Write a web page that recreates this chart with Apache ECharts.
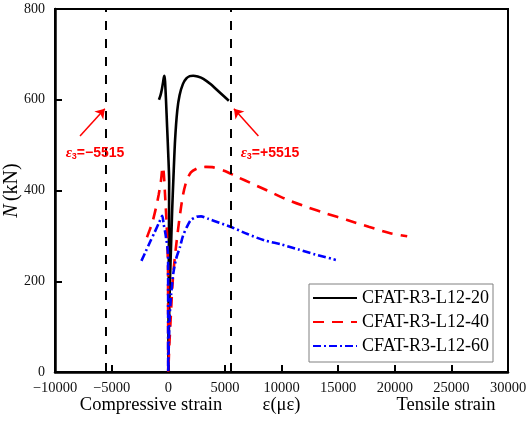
<!DOCTYPE html>
<html><head><meta charset="utf-8">
<script src="https://cdn.jsdelivr.net/npm/echarts@6/dist/echarts.min.js"></script>
<style>html,body{margin:0;padding:0;background:#fff}#c{width:529px;height:425px}</style>
</head><body><div id="c"></div>
<script>
const seriesNames = ['CFAT-R3-L12-20', 'CFAT-R3-L12-40', 'CFAT-R3-L12-60'];
const strain20 = [-820,-680,-550,-450,-380,-330,-280,-200,-100,0,80,60,40,20,0,60,150,250,350,450,600,800,1000,1300,1600,1900,2200,2600,3100,3700,4500,5350];
const load20   = [600,610,625,640,650,653,640,600,540,480,420,300,200,100,0,100,200,280,360,423,510,577,610,635,647,652,653,651,646,635,617,598];
const strain40 = [-1880,-1650,-1400,-1100,-850,-650,-490,-400,-290,-150,-30,-20,-10,0,100,200,300,420,550,750,1000,1300,1600,2000,2600,3300,4000,5000,6000,7500,9000,10500,12200,14000,15800,17700,19600,21100];
const load40   = [297,312,330,360,390,420,452,440,394,330,240,200,100,0,60,110,160,210,245,290,340,390,420,440,449,452,451,443,431,414,397,380,364,349,335,320,306,299];
const strain60 = [-2370,-2000,-1600,-1200,-800,-530,-400,-250,-20,-10,-10,0,50,120,250,450,700,1040,1300,1650,2000,2500,2900,3500,4500,5600,7000,8500,10000,11500,13000,14800];
const load60   = [245,265,287,308,330,344,325,305,260,200,100,0,60,120,170,218,250,276,300,320,335,342,343,338,329,319,304,290,281,270,259,247];
const yieldStrain = [-5515, 5515];
const yieldLabels = ['=\u22125515', '=+5515'];
const xTicks = {min: -10000, max: 30000, interval: 5000};
const yTicks = {min: 0, max: 800, interval: 200};

const pairs = (xs, ys) => xs.map((x, i) => [x, ys[i]]);
const SERIF = "'Liberation Serif','Times New Roman',serif";
const fmtNum = v => v < 0 ? '\u2212' + Math.abs(v) : String(v);

const chart = echarts.init(document.getElementById('c'), null, {renderer: 'canvas'});
const labelRich = {
  e: {fontFamily: "'Liberation Serif',serif", fontStyle: 'italic', fontWeight: 'bold', fontSize: 15, color: '#ff0000'},
  s: {fontFamily: "'Liberation Sans',sans-serif", fontWeight: 'bold', fontSize: 9, color: '#ff0000', padding: [7, 0, 0, 0]},
  t: {fontFamily: "'Liberation Sans',sans-serif", fontWeight: 'bold', fontSize: 14, color: '#ff0000'}
};
chart.setOption({
  animation: false,
  backgroundColor: '#fff',
  grid: {left: 55, right: 21, top: 9, bottom: 53, containLabel: false, outerBoundsMode: 'none', show: true, borderColor: '#000', borderWidth: 2, backgroundColor: 'transparent'},
  xAxis: {
    type: 'value', min: xTicks.min, max: xTicks.max, interval: xTicks.interval,
    name: '\u03b5(\u03bc\u03b5)', nameLocation: 'middle', nameGap: 24, nameMoveOverlap: false,
    nameTextStyle: {fontFamily: SERIF, fontSize: 18.5, color: '#000'},
    axisLine: {onZero: false, lineStyle: {color: '#000', width: 2.5}},
    axisTick: {inside: true, length: 7, lineStyle: {color: '#000', width: 2}},
    axisLabel: {margin: 9, fontFamily: SERIF, fontSize: 14.5, color: '#111', formatter: fmtNum},
    splitLine: {show: false}
  },
  yAxis: {
    type: 'value', min: yTicks.min, max: yTicks.max, interval: yTicks.interval,
    name: '{i|N} {n|(kN)}', nameLocation: 'middle', nameGap: 33, nameRotate: 90, nameMoveOverlap: false,
    nameTextStyle: {rich: {i: {fontFamily: SERIF, fontStyle: 'italic', fontSize: 20, color: '#000'}, n: {fontFamily: SERIF, fontSize: 20, color: '#000'}}},
    axisLine: {onZero: false, lineStyle: {color: '#000', width: 2.5}},
    axisTick: {inside: true, length: 7, lineStyle: {color: '#000', width: 2}},
    axisLabel: {margin: 10, fontFamily: SERIF, fontSize: 14, color: '#111', formatter: fmtNum},
    splitLine: {show: false}
  },
  legend: {
    orient: 'vertical', left: 309, top: 284, padding: [4, 4, 6, 3],
    itemWidth: 44, itemHeight: 14, itemGap: 4,
    borderColor: '#808080', borderWidth: 1, backgroundColor: '#fff',
    itemStyle: {opacity: 0},
    textStyle: {fontFamily: SERIF, fontSize: 18, color: '#000', lineHeight: 20},
    data: seriesNames
  },
  graphic: [
    {type: 'text', x: 151, y: 405, style: {text: 'Compressive strain', font: "18.5px 'Liberation Serif', serif", fill: '#000', align: 'center', verticalAlign: 'middle'}},
    {type: 'text', x: 446, y: 405, style: {text: 'Tensile strain', font: "18.5px 'Liberation Serif', serif", fill: '#000', align: 'center', verticalAlign: 'middle'}}
  ],
  series: [
    {
      name: seriesNames[0], type: 'line', symbol: 'none', smooth: 0.25, data: pairs(strain20, load20),
      lineStyle: {color: '#000', width: 2.6}, itemStyle: {color: '#000'},
      markLine: {
        silent: true, symbol: 'none', label: {show: false},
        lineStyle: {color: '#000', width: 2, type: [9, 9]},
        data: yieldStrain.map(v => ({xAxis: v}))
      }
    },
    {
      name: seriesNames[1], type: 'line', symbol: 'none', smooth: 0.25, data: pairs(strain40, load40),
      lineStyle: {color: '#ff0000', width: 2.6, type: [11, 8]}, itemStyle: {color: '#ff0000'},
      markLine: {
        silent: true, symbol: ['none', 'arrow'], symbolSize: 9, label: {show: false},
        lineStyle: {color: '#ff0000', width: 1.5, type: 'solid'},
        data: [
          [{coord: [-7790, 520]}, {coord: [-5600, 580]}],
          [{coord: [7960, 520]}, {coord: [5800, 580]}]
        ]
      }
    },
    {
      name: seriesNames[2], type: 'line', symbol: 'none', smooth: 0.25, data: pairs(strain60, load60),
      lineStyle: {color: '#0000ff', width: 2.6, type: [8, 3, 2, 3]}, itemStyle: {color: '#0000ff'},
      markPoint: {
        silent: true, symbol: 'circle', symbolSize: 0,
        label: {show: true, position: 'inside', rich: labelRich},
        data: [
          {coord: [-6470, 482], label: {formatter: '{e|\u03b5}{s|3}{t|' + yieldLabels[0] + '}'}},
          {coord: [8985, 482], label: {formatter: '{e|\u03b5}{s|3}{t|' + yieldLabels[1] + '}'}}
        ]
      }
    }
  ]
});
</script></body></html>
